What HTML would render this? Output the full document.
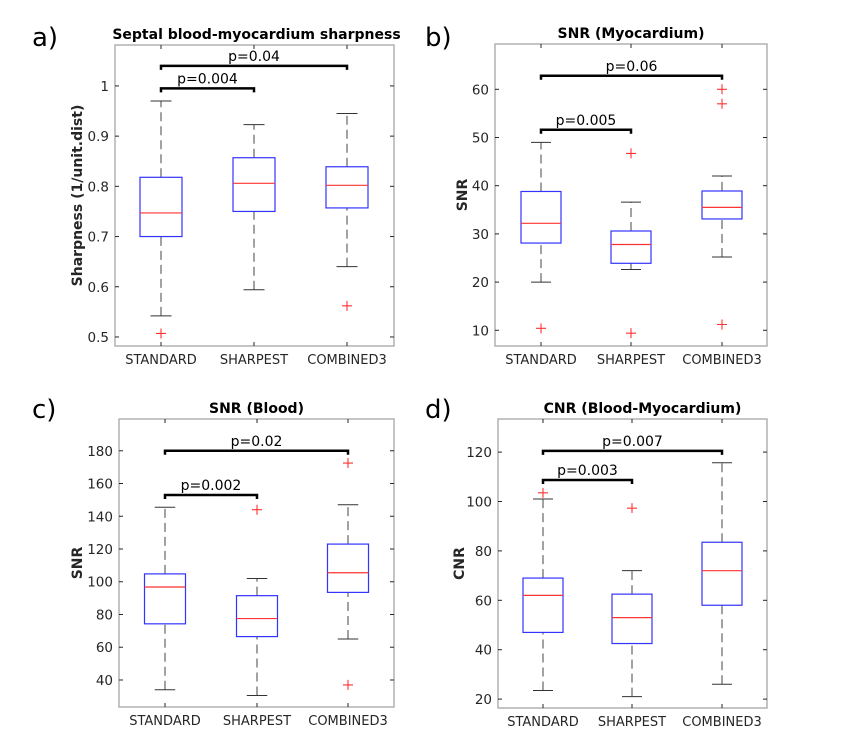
<!DOCTYPE html>
<html><head><meta charset="utf-8"><style>
body{margin:0;background:#fff;}
svg{display:block;font-family:"DejaVu Sans","Liberation Sans",sans-serif;}
</style></head><body>
<svg id="fig" width="848" height="747" viewBox="0 0 848 747" xmlns="http://www.w3.org/2000/svg"></svg>
<script>
const categories = ["STANDARD","SHARPEST","COMBINED3"];
// [whiskerLow, q1, median, q3, whiskerHigh]
const sharpBoxes = [[0.542,0.70,0.747,0.818,0.970],[0.594,0.75,0.806,0.857,0.923],[0.640,0.757,0.802,0.839,0.945]];
const sharpOutliers = [[0.507],[],[0.562]];
const sharpTicks = [0.5,0.6,0.7,0.8,0.9,1];
const sharpTickLabels = ["0.5","0.6","0.7","0.8","0.9","1"];
const sharpBrackets = [[0,1,0.995,"p=0.004"],[0,2,1.04,"p=0.04"]];

const snrMyoBoxes = [[20,28.1,32.2,38.8,49],[22.6,23.9,27.8,30.6,36.6],[25.2,33.1,35.5,38.9,42]];
const snrMyoOutliers = [[10.4],[46.7,9.4],[60,57,11.2]];
const snrMyoTicks = [10,20,30,40,50,60];
const snrMyoBrackets = [[0,1,51.6,"p=0.005"],[0,2,62.8,"p=0.06"]];

const snrBloodBoxes = [[34,74.3,96.8,104.8,145.5],[30.5,66.5,77.5,91.5,102],[65,93.5,105.5,123,147]];
const snrBloodOutliers = [[],[144],[172.5,37]];
const snrBloodTicks = [40,60,80,100,120,140,160,180];
const snrBloodBrackets = [[0,1,153,"p=0.002"],[0,2,180,"p=0.02"]];

const cnrBoxes = [[23.5,47,62,69,101],[21,42.5,53,62.5,72],[26,58,72,83.5,115.7]];
const cnrOutliers = [[103.5],[97.3],[]];
const cnrTicks = [20,40,60,80,100,120];
const cnrBrackets = [[0,1,108.7,"p=0.003"],[0,2,120.5,"p=0.007"]];

const NS="http://www.w3.org/2000/svg";
const svg=document.getElementById('fig');
function el(tag,attrs,parent){const e=document.createElementNS(NS,tag);for(const k in attrs)e.setAttribute(k,attrs[k]);(parent||svg).appendChild(e);return e;}

function panel(cfg){
  const g=el('g',{});
  
  
  const {L,R,T,B,ymin,ymax,xs,hw}=cfg;
  const y=v=>B-(v-ymin)/(ymax-ymin)*(B-T);
  el('rect',{x:L,y:T,width:R-L,height:B-T,fill:'#fff',stroke:'#a6a6a6','stroke-width':1.3},g);
  cfg.ticks.forEach((t,i)=>{
    const yy=y(t);
    el('line',{x1:L,x2:L+4,y1:yy,y2:yy,stroke:'#262626'},g);
    el('line',{x1:R,x2:R-4,y1:yy,y2:yy,stroke:'#262626'},g);
    const tx=el('text',{x:L-6,y:yy+5,'text-anchor':'end','font-size':13.5,fill:'#262626'},g);
    tx.textContent=cfg.tickLabels?cfg.tickLabels[i]:String(t);
    
    
  });
  categories.forEach((c,i)=>{
    const x=xs[i];
    el('line',{x1:x,x2:x,y1:B,y2:B-4,stroke:'#262626'},g);
    el('line',{x1:x,x2:x,y1:T,y2:T+4,stroke:'#262626'},g);
    const tx=el('text',{x:x,y:B+18,'text-anchor':'middle','font-size':13,fill:'#262626'},g);
    tx.textContent=c;
    
    
  });
  cfg.boxes.forEach((b,i)=>{
    const x=xs[i];
    const bg=el('g',{},g);
    
    
    el('line',{x1:x,x2:x,y1:y(b[0]),y2:y(b[1]),stroke:'#444','stroke-dasharray':'9,5'},bg);
    el('line',{x1:x,x2:x,y1:y(b[3]),y2:y(b[4]),stroke:'#444','stroke-dasharray':'9,5'},bg);
    el('line',{x1:x-hw/2,x2:x+hw/2,y1:y(b[0]),y2:y(b[0]),stroke:'#333'},bg);
    el('line',{x1:x-hw/2,x2:x+hw/2,y1:y(b[4]),y2:y(b[4]),stroke:'#333'},bg);
    el('rect',{x:x-hw,y:y(b[3]),width:2*hw,height:y(b[1])-y(b[3]),fill:'none',stroke:'#3333ff','stroke-width':1.2},bg);
    el('line',{x1:x-hw,x2:x+hw,y1:y(b[2]),y2:y(b[2]),stroke:'#ff3333','stroke-width':1.2},bg);
    cfg.outliers[i].forEach(o=>{
      const oy=y(o);
      const p=el('path',{d:`M${x-5} ${oy}H${x+5}M${x} ${oy-5}V${oy+5}`,stroke:'#ff3333','stroke-width':1.1},g);
      
      
    });
  });
  cfg.brackets.forEach(br=>{
    const x1=xs[br[0]],x2=xs[br[1]],yy=y(br[2]);
    const p=el('path',{d:`M${x1} ${yy+4}V${yy}H${x2}V${yy+4}`,fill:'none',stroke:'#000','stroke-width':2.5},g);
    
    
    const t=el('text',{x:(x1+x2)/2,y:yy-5,'text-anchor':'middle','font-size':14,fill:'#000'},g);
    t.textContent=br[3];
    
    
  });
  const tt=el('text',{x:(L+R)/2+cfg.titleDx,y:T-6,'text-anchor':'middle','font-size':14,'font-weight':'bold',fill:'#000'},g);
  tt.textContent=cfg.title;
  
  
  const yl=el('text',{x:0,y:0,transform:`translate(${cfg.ylx},${(T+B)/2}) rotate(-90)`,'text-anchor':'middle','font-size':14,'font-weight':'bold',fill:'#262626'},g);
  yl.textContent=cfg.ylabel;
  
  
  const pl=el('text',{x:cfg.lx,y:cfg.ly,'font-size':26,fill:'#000'},g);
  pl.textContent=cfg.letter;
  
  
}

panel({name:'panel-a-sharpness',L:115,R:394,T:45,B:346,ymin:0.482,ymax:1.0815,xs:[161,254,347],hw:21,
  ticks:sharpTicks,tickLabels:sharpTickLabels,boxes:sharpBoxes,outliers:sharpOutliers,brackets:sharpBrackets,
  title:'Septal blood-myocardium sharpness',titleDx:2,ylabel:'Sharpness (1/unit.dist)',ylx:82,letter:'a)',lx:32,ly:46});
panel({name:'panel-b-snr-myocardium',L:495,R:767,T:44,B:346,ymin:6.74,ymax:69.4,xs:[541,631,722],hw:20,
  ticks:snrMyoTicks,boxes:snrMyoBoxes,outliers:snrMyoOutliers,brackets:snrMyoBrackets,
  title:'SNR (Myocardium)',titleDx:0,ylabel:'SNR',ylx:467,letter:'b)',lx:425,ly:46});
panel({name:'panel-c-snr-blood',L:119,R:394,T:419,B:707,ymin:23.5,ymax:199.4,xs:[165,257,348],hw:20.5,
  ticks:snrBloodTicks,boxes:snrBloodBoxes,outliers:snrBloodOutliers,brackets:snrBloodBrackets,
  title:'SNR (Blood)',titleDx:0,ylabel:'SNR',ylx:82,letter:'c)',lx:32,ly:418});
panel({name:'panel-d-cnr',L:498,R:767,T:419,B:708,ymin:16.4,ymax:133.4,xs:[543,632,722],hw:20,
  ticks:cnrTicks,boxes:cnrBoxes,outliers:cnrOutliers,brackets:cnrBrackets,
  title:'CNR (Blood-Myocardium)',titleDx:10,ylabel:'CNR',ylx:464,letter:'d)',lx:425,ly:418});
</script>
</body></html>
